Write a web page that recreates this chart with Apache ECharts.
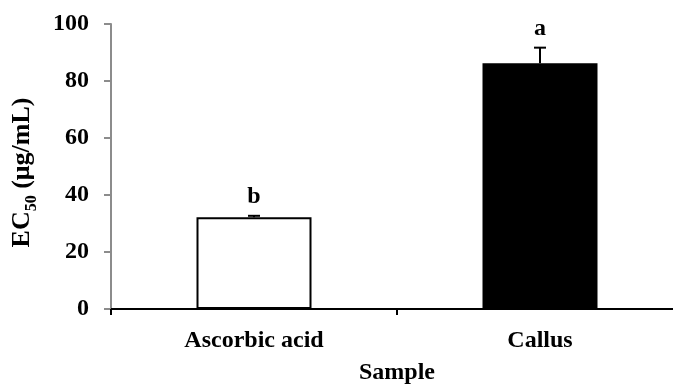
<!DOCTYPE html>
<html>
<head>
<meta charset="utf-8">
<script src="https://cdn.jsdelivr.net/npm/echarts@6/dist/echarts.min.js"></script>
<style>
  html, body { margin: 0; padding: 0; background: #fff; }
  #chart { width: 673px; height: 385px; }
</style>
</head>
<body>
<div id="chart"></div>
<script>
// Samples, EC50 means, standard deviations and significance letters
const categories = ['Ascorbic acid', 'Callus'];
const ec50 = [32.2, 86.2];
const sd = [0.5, 5.5];
const letters = ['b', 'a'];
const yTicks = [0, 20, 40, 60, 80, 100];

const FONT = '"Liberation Serif", "Times New Roman", serif';
const fills = ['#ffffff', '#000000'];

const chart = echarts.init(document.getElementById('chart'), null, { renderer: 'canvas' });

chart.setOption({
  animation: false,
  backgroundColor: '#ffffff',
  // plot area runs past the right edge of the canvas
  grid: { left: 111, width: 572, top: 24, height: 285, containLabel: false, outerBoundsMode: 'none' },
  xAxis: {
    type: 'category',
    data: categories,
    boundaryGap: true,
    name: 'Sample',
    nameLocation: 'middle',
    nameGap: 52,
    nameTextStyle: { fontFamily: FONT, fontWeight: 'bold', fontSize: 24, color: '#000' },
    axisLine: { lineStyle: { color: '#000', width: 2 } },
    axisTick: { show: true, alignWithLabel: false, length: 6, lineStyle: { color: '#000', width: 2 } },
    axisLabel: { fontFamily: FONT, fontWeight: 'bold', fontSize: 24, color: '#000', margin: 20 }
  },
  yAxis: {
    type: 'value',
    min: yTicks[0],
    max: yTicks[yTicks.length - 1],
    interval: 20,
    name: '{b|EC}{s|50}{e| (μg/mL)}',
    nameLocation: 'middle',
    nameRotate: 90,
    nameGap: 76,
    nameTextStyle: {
      rich: {
        b: { fontFamily: FONT, fontWeight: 'bold', fontSize: 26, color: '#000', lineHeight: 28, verticalAlign: 'bottom' },
        s: { fontFamily: FONT, fontWeight: 'bold', fontSize: 16, color: '#000', lineHeight: 28, verticalAlign: 'bottom', padding: [0, 0, -5, 0] },
        e: { fontFamily: FONT, fontWeight: 'bold', fontSize: 26, color: '#000', lineHeight: 28, verticalAlign: 'bottom', padding: [0, 12, 0, 0] }
      }
    },
    splitLine: { show: false },
    axisLine: { show: true, lineStyle: { color: '#8c8c8c', width: 2 } },
    axisTick: { show: true, length: 7, lineStyle: { color: '#8c8c8c', width: 2 } },
    axisLabel: { fontFamily: FONT, fontWeight: 'bold', fontSize: 24, color: '#000', margin: 22, padding: [4, 0, 0, 0] }
  },
  series: [
    {
      type: 'bar',
      barWidth: 115,
      data: ec50.map((v, i) => ({
        value: v,
        itemStyle: { color: fills[i], borderColor: '#000', borderWidth: 2 }
      })),
      z: 2
    },
    {
      // upper error bars with caps and significance letters
      type: 'custom',
      z: 3,
      data: ec50.map((v, i) => [i, v, sd[i]]),
      renderItem: function (params, api) {
        const i = api.value(0);
        const base = api.coord([i, api.value(1)]);
        const top = api.coord([i, api.value(1) + api.value(2)]);
        const cap = 6;
        return {
          type: 'group',
          children: [
            { type: 'line', shape: { x1: base[0], y1: base[1], x2: top[0], y2: top[1] },
              style: { stroke: '#000', lineWidth: 2 } },
            { type: 'line', shape: { x1: top[0] - cap, y1: top[1], x2: top[0] + cap, y2: top[1] },
              style: { stroke: '#000', lineWidth: 2 } },
            { type: 'text',
              style: { text: letters[params.dataIndex], x: top[0], y: top[1] - 19,
                       align: 'center', verticalAlign: 'middle',
                       font: 'bold 24px ' + FONT, fill: '#000' } }
          ]
        };
      }
    }
  ]
});
</script>
</body>
</html>
